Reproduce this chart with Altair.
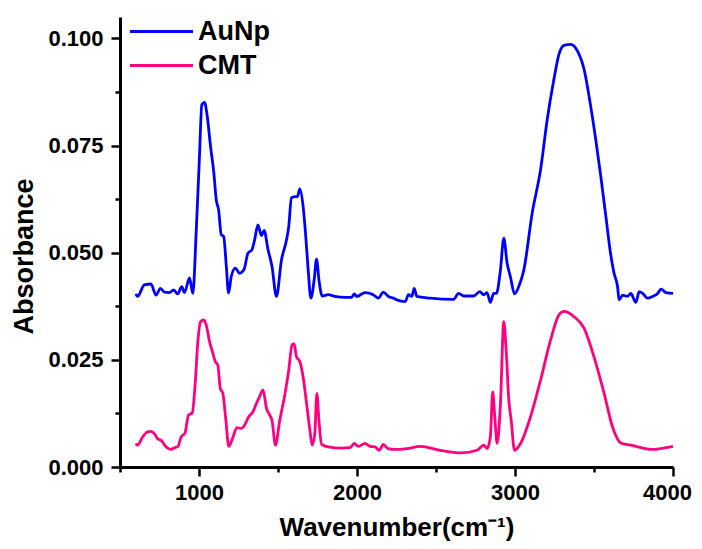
import altair as alt
import pandas as pd

# AuNp series (wavenumber cm-1, absorbance)
aunp_x = [600, 611, 654, 696, 728, 756, 781, 813, 840, 865, 891, 908, 940, 961, 982, 1003, 1018, 1035,
          1052, 1073, 1094, 1109, 1124, 1141, 1156, 1173, 1187, 1204, 1230, 1257, 1284, 1310, 1335, 1352,
          1373, 1395, 1412, 1437, 1462, 1490, 1522, 1554, 1568, 1585, 1606, 1623, 1638, 1659, 1674, 1691,
          1708, 1729, 1744, 1759, 1780, 1818, 1860, 1924, 1966, 1983, 1998, 2051, 2103, 2135, 2167, 2199,
          2230, 2252, 2305, 2326, 2347, 2362, 2379, 2463, 2611, 2643, 2675, 2738, 2777, 2802, 2823, 2844,
          2865, 2882, 2908, 2929, 2950, 2971, 2997, 3024, 3056, 3109, 3162, 3204, 3246, 3278, 3310, 3352,
          3395, 3437, 3479, 3511, 3543, 3575, 3606, 3627, 3649, 3659, 3681, 3712, 3733, 3765, 3786, 3808,
          3839, 3871, 3903, 3924, 3956, 4000]
aunp_y = [0.0404, 0.0398, 0.0425, 0.0427, 0.0401, 0.0417, 0.0408, 0.0407, 0.0413, 0.0404, 0.0421, 0.0407,
          0.0441, 0.0405, 0.0546, 0.0725, 0.0846, 0.0851, 0.0819, 0.0748, 0.0686, 0.0624, 0.0600, 0.0542,
          0.0538, 0.0468, 0.0406, 0.0444, 0.0464, 0.0452, 0.0460, 0.0499, 0.0507, 0.0530, 0.0565, 0.0540,
          0.0552, 0.0507, 0.0468, 0.0398, 0.0483, 0.0530, 0.0561, 0.0628, 0.0631, 0.0631, 0.0649, 0.0608,
          0.0546, 0.0460, 0.0394, 0.0437, 0.0485, 0.0437, 0.0399, 0.0402, 0.0398, 0.0396, 0.0396, 0.0404,
          0.0398, 0.0407, 0.0402, 0.0394, 0.0408, 0.0398, 0.0394, 0.0390, 0.0386, 0.0402, 0.0398, 0.0417,
          0.0398, 0.0394, 0.0391, 0.0405, 0.0399, 0.0399, 0.0409, 0.0402, 0.0407, 0.0384, 0.0405, 0.0405,
          0.0460, 0.0534, 0.0476, 0.0444, 0.0404, 0.0421, 0.0460, 0.0593, 0.0694, 0.0811, 0.0904, 0.0963,
          0.0984, 0.0986, 0.0971, 0.0928, 0.0842, 0.0764, 0.0678, 0.0585, 0.0495, 0.0452, 0.0421, 0.0390,
          0.0401, 0.0398, 0.0405, 0.0384, 0.0409, 0.0405, 0.0394, 0.0398, 0.0405, 0.0415, 0.0407, 0.0405]

# CMT series
cmt_x = [600, 611, 643, 675, 696, 717, 738, 760, 792, 823, 844, 865, 887, 912, 933, 957, 976, 992, 1010,
         1030, 1046, 1067, 1088, 1103, 1119, 1135, 1151, 1168, 1189, 1215, 1240, 1268, 1289, 1314, 1342,
         1363, 1384, 1405, 1427, 1448, 1462, 1484, 1511, 1543, 1568, 1589, 1602, 1617, 1638, 1659, 1681,
         1702, 1716, 1733, 1746, 1759, 1776, 1818, 1903, 1956, 1983, 2008, 2051, 2083, 2114, 2140, 2167,
         2195, 2241, 2316, 2400, 2527, 2654, 2760, 2802, 2823, 2844, 2859, 2872, 2887, 2908, 2929, 2944,
         2961, 2976, 2997, 3035, 3098, 3162, 3225, 3278, 3310, 3373, 3437, 3500, 3564, 3617, 3670, 3733,
         3776, 3860, 3924, 4000]
cmt_y = [0.0055, 0.0051, 0.0070, 0.0082, 0.0083, 0.0078, 0.0066, 0.0062, 0.0047, 0.0041, 0.0045, 0.0047,
         0.0070, 0.0080, 0.0121, 0.0126, 0.0195, 0.0289, 0.0339, 0.0343, 0.0331, 0.0292, 0.0265, 0.0246,
         0.0238, 0.0183, 0.0172, 0.0117, 0.0048, 0.0070, 0.0092, 0.0090, 0.0098, 0.0117, 0.0129, 0.0148,
         0.0165, 0.0180, 0.0137, 0.0121, 0.0109, 0.0051, 0.0109, 0.0168, 0.0226, 0.0285, 0.0287, 0.0257,
         0.0246, 0.0210, 0.0148, 0.0086, 0.0051, 0.0078, 0.0172, 0.0109, 0.0053, 0.0047, 0.0044, 0.0045,
         0.0055, 0.0048, 0.0055, 0.0048, 0.0047, 0.0039, 0.0053, 0.0043, 0.0041, 0.0043, 0.0048, 0.0039,
         0.0033, 0.0039, 0.0051, 0.0043, 0.0070, 0.0175, 0.0117, 0.0055, 0.0148, 0.0339, 0.0273, 0.0156,
         0.0109, 0.0039, 0.0055, 0.0117, 0.0203, 0.0296, 0.0355, 0.0363, 0.0351, 0.0324, 0.0257, 0.0172,
         0.0094, 0.0056, 0.0051, 0.0047, 0.0041, 0.0043, 0.0048]

series_names = ["AuNp", "CMT"]
series_colors = ["#0000FF", "#FF0080"]

x_major = [1000, 2000, 3000, 4000]
x_minor = [500, 1500, 2500, 3500]
y_major = [0, 0.025, 0.05, 0.075, 0.1]
y_minor = [0.0125, 0.0375, 0.0625, 0.0875]

rows = []
for xv, yv in zip(aunp_x, aunp_y):
    rows.append({"series": "AuNp", "x": xv, "y": yv})
for xv, yv in zip(cmt_x, cmt_y):
    rows.append({"series": "CMT", "x": xv, "y": yv})
df = pd.DataFrame(rows)

FONT = "Liberation Sans"

y_major_js = "[" + ",".join(str(v) for v in y_major) + "]"
x_major_js = "[" + ",".join(str(v) for v in x_major) + "]"

x_axis = alt.Axis(
    values=sorted(x_major + x_minor),
    labelExpr=f"indexof({x_major_js}, datum.value) >= 0 ? format(datum.value, 'd') : ''",
    tickSize={"condition": {"test": f"indexof({x_major_js}, datum.value) >= 0", "value": 9}, "value": 5},
    labelOffset={"condition": {"test": "datum.value === 4000", "value": -6}, "value": 0},
    title="Wavenumber(cm⁻¹)",
    titleFontSize=26,
    titleY=68,
    titleBaseline="alphabetic",
    labelFontSize=22,
    labelPadding=6,
    grid=False,
    labelFlush=False,
    labelOverlap=False,
)

y_axis = alt.Axis(
    values=sorted(y_major + y_minor),
    labelExpr=f"indexof({y_major_js}, datum.value) >= 0 ? format(datum.value, '.3f') : ''",
    tickSize={"condition": {"test": f"indexof({y_major_js}, datum.value) >= 0", "value": 9}, "value": 5},
    title="Absorbance",
    titleFontSize=27,
    titleX=-88,
    titleY=239,
    titleBaseline="alphabetic",
    labelFontSize=22,
    labelPadding=8,
    grid=False,
    labelFlush=False,
    labelOverlap=False,
)

chart = alt.Chart(df).mark_line(strokeWidth=2.8, interpolate="monotone").encode(
    x=alt.X("x:Q", scale=alt.Scale(domain=[500, 4000], nice=False, zero=False), axis=x_axis),
    y=alt.Y("y:Q", scale=alt.Scale(domain=[0, 0.105], nice=False, zero=False), axis=y_axis),
    color=alt.Color(
        "series:N",
        scale=alt.Scale(domain=series_names, range=series_colors),
        sort=series_names,
        legend=alt.Legend(
            title=None,
            orient="none",
            legendX=28,
            legendY=1,
            symbolType="M-3,0L3,0",
            symbolSize=441,
            symbolStrokeWidth=3,
            labelFontSize=27,
            labelFont=FONT,
            labelFontWeight="bold",
            labelOffset=23,
            rowPadding=6,
            padding=0,
        ),
    ),
    order=alt.Order("x:Q"),
).properties(
    width=553,
    height=450,
    autosize=alt.AutoSizeParams(type="none"),
    padding={"left": 112, "top": 9, "right": 20, "bottom": 74},
).configure(
    font=FONT,
).configure_view(
    stroke=None,
).configure_axis(
    labelFont=FONT,
    labelFontWeight="bold",
    labelColor="black",
    titleFont=FONT,
    titleFontWeight="bold",
    titleColor="black",
    domainColor="black",
    domainWidth=3,
    tickColor="black",
    tickWidth=2.5,
)

chart.save("out.html", embed_options={"renderer": "svg", "actions": False})
